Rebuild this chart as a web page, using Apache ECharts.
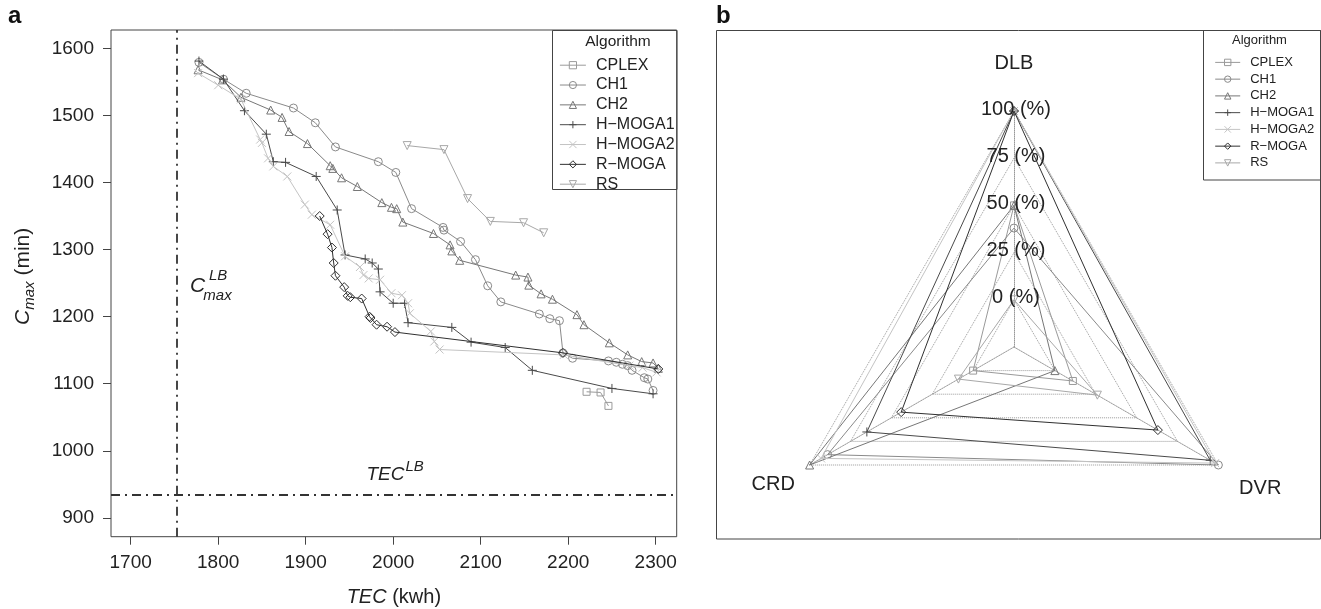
<!DOCTYPE html>
<html><head><meta charset="utf-8">
<script src="https://cdn.jsdelivr.net/npm/echarts@6/dist/echarts.min.js"></script>
<style>html,body{margin:0;padding:0;background:#fff}#c{width:1321px;height:609px}</style>
</head><body><div id="c"></div>
<script>
// ---------- data ----------
const algorithms = ['CPLEX', 'CH1', 'CH2', 'H\u2212MOGA1', 'H\u2212MOGA2', 'R\u2212MOGA', 'RS'];

const cplexPts = [[2221,1088],[2237,1087],[2246,1067]];
const ch1Pts = [[1778,1579],[1806,1554],[1832,1533],[1886,1511],[1911,1489],[1934,1453],[1983,1431],[2003,1415],[2021,1361],[2057,1333],[2058,1329],[2077,1312],[2094,1285],[2108,1246],[2123,1222],[2167,1204],[2179,1197],[2190,1194],[2194,1146],[2205,1138],[2246,1134],[2255,1132],[2262,1129],[2268,1127],[2273,1120],[2287,1109],[2291,1107],[2297,1090]];
const ch2Pts = [[1777,1568],[1805,1553],[1826,1527],[1860,1508],[1873,1497],[1881,1476],[1902,1458],[1928,1425],[1931,1421],[1941,1407],[1959,1394],[1987,1370],[1998,1363],[2004,1361],[2011,1341],[2046,1324],[2065,1307],[2067,1298],[2076,1284],[2140,1262],[2154,1259],[2155,1247],[2169,1234],[2182,1226],[2210,1203],[2218,1188],[2247,1161],[2268,1143],[2284,1133],[2297,1131],[2303,1123]];
const hmoga1Pts = [[1778,1581],[1806,1554],[1830,1507],[1855,1472],[1863,1431],[1877,1430],[1912,1409],[1936,1359],[1945,1292],[1968,1286],[1976,1280],[1983,1271],[1985,1237],[2000,1220],[2013,1220],[2017,1191],[2067,1184],[2089,1162],[2128,1154],[2159,1120],[2250,1093],[2297,1085]];
const hmoga2Pts = [[1777,1563],[1800,1545],[1826,1524],[1848,1464],[1850,1459],[1857,1436],[1863,1424],[1879,1409],[1899,1367],[1907,1352],[1928,1337],[1945,1290],[1962,1274],[1966,1262],[1972,1257],[1985,1255],[1998,1235],[2010,1232],[2017,1220],[2019,1205],[2043,1178],[2047,1163],[2053,1151],[2195,1143],[2270,1127],[2285,1124],[2301,1117]];
const rmogaPts = [[1916,1350],[1925,1323],[1930,1303],[1932,1280],[1934,1261],[1944,1244],[1948,1231],[1951,1229],[1964,1227],[1973,1200],[1974,1198],[1981,1188],[1993,1185],[2002,1177],[2194,1146],[2303,1122]];
const rsPts = [[2016,1455],[2058,1449],[2085,1376],[2111,1342],[2149,1340],[2172,1325]];

const xTicks = [1700, 1800, 1900, 2000, 2100, 2200, 2300];
const yTicks = [900, 1000, 1100, 1200, 1300, 1400, 1500, 1600];
const tecLB = 1753;   // vertical reference line (TEC lower bound)
const cmaxLB = 934;   // horizontal reference line (Cmax lower bound)

const radarIndicators = ['DLB', 'CRD', 'DVR'];
const radarDLB = [50, 38, 50, 100, 100, 100, 0];
const radarCRD = [0, 89, 100, 65, 93, 44, 9];
const radarDVR = [11, 100, 0, 95, 98, 63, 26];
const radarTickLabels = ['0 (%)', '25 (%)', '50 (%)', '75 (%)', '100 (%)'];

// ---------- styles ----------
const FONT = "'Liberation Sans', Arial, Helvetica, sans-serif";
const colors = ['#9a9a9a', '#8a8a8a', '#777777', '#4a4a4a', '#c4c4c4', '#303030', '#a8a8a8'];
const symbols = ['rect', 'circle', 'triangle', 'path://M5,0L5,10M0,5L10,5', 'path://M0,0L10,10M10,0L0,10', 'diamond', 'path://M0,0L10,0L5,8.66Z'];
const symSizes = [7, 8, 8, 9, 8, 9, 8];
const seriesPts = [cplexPts, ch1Pts, ch2Pts, hmoga1Pts, hmoga2Pts, rmogaPts, rsPts];
const CLEAR = 'rgba(255,255,255,0)';

const chart = echarts.init(document.getElementById('c'), null, {renderer: 'canvas'});

const series = [];
algorithms.forEach((name, i) => {
  const s = {
    type: 'line', name, data: seriesPts[i], xAxisIndex: 0, yAxisIndex: 0,
    symbol: symbols[i], symbolSize: symSizes[i], showAllSymbol: true,
    color: colors[i],
    lineStyle: {color: colors[i], width: 1},
    itemStyle: {color: CLEAR, borderColor: colors[i], borderWidth: 1},
    emphasis: {disabled: true}, animation: false, z: 2 + i
  };
  if (i === 0) {
    s.markLine = {
      silent: true, symbol: 'none', animation: false,
      label: {show: false},
      lineStyle: {color: '#333', width: 1.8, type: [9, 5, 2, 5]},
      data: [{xAxis: tecLB}, {yAxis: cmaxLB}]
    };
  }
  series.push(s);
});
algorithms.forEach((name, i) => {
  series.push({
    type: 'radar', name, radarIndex: 0,
    symbol: symbols[i], symbolSize: symSizes[i],
    color: colors[i],
    lineStyle: {color: colors[i], width: 1},
    itemStyle: {color: CLEAR, borderColor: colors[i], borderWidth: 1},
    emphasis: {disabled: true}, animation: false, z: 2 + i,
    data: [{name, value: [radarDLB[i], radarCRD[i], radarDVR[i]]}]
  });
});

const RC = [1014, 347], RR = 236;
const graphics = [
  {type: 'text', x: 8, y: 16.5, style: {text: 'a', font: "bold 24px " + FONT, fill: '#111', verticalAlign: 'middle', textVerticalAlign: 'middle'}},
  {type: 'text', x: 716, y: 16.5, style: {text: 'b', font: "bold 24px " + FONT, fill: '#111', verticalAlign: 'middle', textVerticalAlign: 'middle'}},
  // panel b frame
  {type: 'rect', shape: {x: 716.5, y: 30.5, width: 604, height: 508.5}, style: {fill: 'none', stroke: '#444', lineWidth: 1}, silent: true},
  // legend frames
  {type: 'rect', shape: {x: 552.5, y: 30.5, width: 124.5, height: 159}, style: {fill: 'none', stroke: '#444', lineWidth: 1}, silent: true},
  {type: 'rect', shape: {x: 1203.5, y: 30.5, width: 117, height: 149.5}, style: {fill: 'none', stroke: '#444', lineWidth: 1}, silent: true},
  {type: 'text', x: 618, y: 41.6, style: {text: 'Algorithm', font: "15.5px " + FONT, fill: '#222', align: 'center', textAlign: 'center', verticalAlign: 'middle', textVerticalAlign: 'middle'}},
  {type: 'text', x: 1259.5, y: 40.9, style: {text: 'Algorithm', font: "13px " + FONT, fill: '#222', align: 'center', textAlign: 'center', verticalAlign: 'middle', textVerticalAlign: 'middle'}},
  // annotations
  {type: 'text', x: 190, y: 285.8, style: {text: 'C', font: "italic 21px " + FONT, fill: '#222', verticalAlign: 'middle', textVerticalAlign: 'middle'}},
  {type: 'text', x: 209, y: 276.2, style: {text: 'LB', font: "italic 15px " + FONT, fill: '#222', verticalAlign: 'middle', textVerticalAlign: 'middle'}},
  {type: 'text', x: 203.3, y: 295.5, style: {text: 'max', font: "italic 15px " + FONT, fill: '#222', verticalAlign: 'middle', textVerticalAlign: 'middle'}},
  {type: 'text', x: 366.4, y: 474.9, style: {text: 'TEC', font: "italic 19px " + FONT, fill: '#222', verticalAlign: 'middle', textVerticalAlign: 'middle'}},
  {type: 'text', x: 405.5, y: 466.4, style: {text: 'LB', font: "italic 15px " + FONT, fill: '#222', verticalAlign: 'middle', textVerticalAlign: 'middle'}}
];
radarTickLabels.forEach((t, k) => {
  const r = 0.2 + 0.2 * k;
  graphics.push({type: 'text', x: 1016, y: RC[1] - r * RR - 2, z: 100,
    style: {text: t, font: "20px " + FONT, fill: '#222', align: 'center', textAlign: 'center', verticalAlign: 'middle', textVerticalAlign: 'middle'}});
});

const legendBase = {
  data: algorithms, orient: 'vertical', selectedMode: false, padding: 0,
  itemStyle: {color: CLEAR, borderWidth: 1},
  lineStyle: {width: 1}
};
const plain = v => String(v);

const option = {
  backgroundColor: '#fff',
  animation: false,
  textStyle: {fontFamily: FONT},
  grid: [{left: 111, top: 30, width: 565.7, height: 506.7, show: true, borderColor: '#444', borderWidth: 1,
          backgroundColor: 'transparent', containLabel: false, outerBoundsMode: 'none'}],
  xAxis: [{
    type: 'value', gridIndex: 0, min: 1677.5, max: 2324,
    axisLine: {show: false},
    axisTick: {show: true, length: 8, lineStyle: {color: '#444'}, customValues: xTicks},
    axisLabel: {customValues: xTicks, margin: 17, fontSize: 19, color: '#222', fontFamily: FONT, formatter: plain},
    splitLine: {show: false},
    name: '{i|TEC} (kwh)', nameLocation: 'middle', nameGap: 51,
    nameTextStyle: {fontSize: 20, color: '#222', fontFamily: FONT, rich: {i: {fontSize: 20, fontStyle: 'italic', color: '#222', fontFamily: FONT}}}
  }],
  yAxis: [{
    type: 'value', gridIndex: 0, min: 872, max: 1627.3,
    axisLine: {show: false},
    axisTick: {show: true, length: 8, lineStyle: {color: '#444'}, customValues: yTicks},
    axisLabel: {customValues: yTicks, margin: 17, fontSize: 19, color: '#222', fontFamily: FONT, formatter: plain},
    splitLine: {show: false},
    name: '{c|C}{s|max} (min)', nameLocation: 'middle', nameGap: 74, nameRotate: 90,
    nameTextStyle: {fontSize: 21, color: '#222', fontFamily: FONT, lineHeight: 28, padding: [0, 0, 0, 14],
      rich: {c: {fontSize: 21, fontStyle: 'italic', color: '#222', fontFamily: FONT, lineHeight: 28},
             s: {fontSize: 15, fontStyle: 'italic', color: '#222', fontFamily: FONT, lineHeight: 15, verticalAlign: 'bottom'}}}
  }],
  radar: {
    center: RC, radius: RR, startAngle: 90, shape: 'polygon', splitNumber: 5,
    indicator: radarIndicators.map(n => ({name: n, min: -25, max: 100})),
    axisName: {color: '#222', fontSize: 20, fontFamily: FONT,
      formatter: (n) => n === 'DLB' ? '{t|DLB}' : (n === 'CRD' ? '{l|CRD}' : '{r|DVR}'),
      rich: {t: {fontSize: 20, color: '#222', fontFamily: FONT, padding: [0, 0, 21, 0]},
             l: {fontSize: 20, color: '#222', fontFamily: FONT, padding: [22, 0, 0, 0]},
             r: {fontSize: 20, color: '#222', fontFamily: FONT, padding: [30, 0, 0, 6]}}},
    nameGap: 17,
    splitLine: {lineStyle: {color: '#999', type: 'dotted', width: 1}},
    splitArea: {show: false},
    axisLine: {lineStyle: {color: '#999', type: 'dotted', width: 1}},
    axisTick: {show: false}, axisLabel: {show: false}
  },
  legend: [
    Object.assign({}, legendBase, {left: 559.4, top: 57.2, itemWidth: 26, itemHeight: 9, itemGap: 3.83,
      textStyle: {fontSize: 16, lineHeight: 14, color: '#222', fontFamily: FONT, padding: [0, 0, 0, 5]}}),
    Object.assign({}, legendBase, {left: 1214.7, top: 55.9, itemWidth: 25, itemHeight: 8, itemGap: 3.75,
      textStyle: {fontSize: 13, lineHeight: 13, color: '#222', fontFamily: FONT, padding: [0, 0, 0, 5]}})
  ],
  graphic: graphics,
  series
};
chart.setOption(option);
</script></body></html>
